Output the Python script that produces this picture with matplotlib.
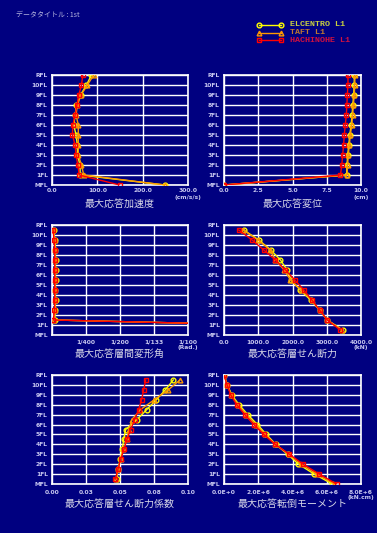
import matplotlib
matplotlib.use("Agg")
import matplotlib.pyplot as plt
import numpy as np

plt.rcParams['font.family'] = ['Noto Sans CJK JP', 'DejaVu Sans']

BG = '#000080'
TXT = '#c8c8f0'

# ---------------- data ----------------
floor_labels = ['MFL', '1FL', '2FL', '3FL', '4FL', '5FL', '6FL', '7FL', '8FL', '9FL', '10FL', 'RFL']
series_names = ['ELCENTRO L1', 'TAFT L1', 'HACHINOHE L1']

# floor-level quantities (MFL .. RFL)
acc_elcentro = [249, 62, 62, 56, 56, 53, 48, 51, 54, 63, 76, 87]
acc_taft     = [249, 70, 65, 58, 58, 58, 58, 53, 56, 64, 78, 92]
acc_hachi    = [149, 60, 57, 53, 51, 45, 46, 51, 55, 59, 65, 68]

disp_elcentro = [0.0, 8.95, 8.98, 9.03, 9.11, 9.18, 9.28, 9.35, 9.40, 9.47, 9.50, 9.52]
disp_taft     = [0.0, 8.98, 9.02, 9.07, 9.15, 9.22, 9.32, 9.39, 9.44, 9.51, 9.54, 9.56]
disp_hachi    = [0.0, 8.50, 8.60, 8.66, 8.73, 8.78, 8.85, 8.93, 8.97, 9.00, 9.05, 9.05]

mom_elcentro = [6.32e6, 5.27e6, 4.35e6, 3.71e6, 3.02e6, 2.48e6, 1.95e6, 1.39e6, 0.88e6, 0.45e6, 0.20e6, 0.0]
mom_taft     = [6.45e6, 5.42e6, 4.50e6, 3.78e6, 3.00e6, 2.40e6, 1.85e6, 1.30e6, 0.81e6, 0.42e6, 0.19e6, 0.0]
mom_hachi    = [6.58e6, 5.56e6, 4.62e6, 3.82e6, 2.99e6, 2.32e6, 1.74e6, 1.21e6, 0.74e6, 0.39e6, 0.18e6, 0.0]

# story quantities (story 1 = MFL-1FL ... story 11 = 10FL-RFL)
drift_elcentro = [0.031, 0.00020, 0.00024, 0.00026, 0.00025, 0.00026, 0.00026, 0.00026, 0.00025, 0.00022, 0.00012]
drift_taft     = [0.031, 0.00018, 0.00022, 0.00024, 0.00024, 0.00024, 0.00024, 0.00025, 0.00024, 0.00020, 0.00010]
drift_hachi    = [0.031, 0.00010, 0.00018, 0.00020, 0.00020, 0.00020, 0.00020, 0.00020, 0.00020, 0.00015, 0.00008]

shear_elcentro = [3463, 3015, 2790, 2527, 2224, 1961, 1844, 1649, 1366, 1015, 576]
shear_taft     = [3444, 3015, 2790, 2556, 2244, 1941, 1756, 1502, 1346, 995, 556]
shear_hachi    = [3395, 3015, 2790, 2566, 2332, 2068, 1795, 1502, 1161, 820, 429]

coef_elcentro = [0.0475, 0.0485, 0.0502, 0.0517, 0.0527, 0.0542, 0.0625, 0.0696, 0.0767, 0.0833, 0.0892]
coef_taft     = [0.0470, 0.0485, 0.0505, 0.0525, 0.0551, 0.0566, 0.0588, 0.0650, 0.0752, 0.0855, 0.0941]
coef_hachi    = [0.0466, 0.0485, 0.0505, 0.0529, 0.0551, 0.0578, 0.0608, 0.0637, 0.0659, 0.0674, 0.0689]

colors = ['#ffff00', '#ff9900', '#ff0000']
markers = ['o', '^', 's']

floor_y = np.arange(len(floor_labels))
story_y = np.arange(len(floor_labels) - 1) + 0.5

W, H = 377, 533
fig = plt.figure(figsize=(W / 100, H / 100), dpi=100)
fig.patch.set_facecolor(BG)


def px_axes(l, t, r, b):
    return fig.add_axes([l / W, 1 - b / H, (r - l) / W, (b - t) / H])


def setup(ax, xlim, xticks, xticklabels, unit, title, title_y_px, unit_y_px, tick_y_px, ax_px):
    l, t, r, b = ax_px
    ax.set_facecolor(BG)
    ax.set_xlim(*xlim)
    ax.set_ylim(0, len(floor_labels) - 1)
    ax.set_yticks(floor_y)
    ax.set_yticklabels(floor_labels)
    ax.set_xticks(xticks)
    ax.set_xticklabels([])
    ax.grid(True, color='white', lw=1.0)
    ax.set_axisbelow(True)
    for s in ax.spines.values():
        s.set_color('white')
        s.set_linewidth(1.2)
    ax.tick_params(axis='both', length=0, colors=TXT)
    ax.tick_params(axis='y', pad=3, labelsize=4.3)
    for lab in ax.get_yticklabels():
        lab.set_fontweight('bold')
        lab.set_family('DejaVu Sans')
    # x tick labels
    for xv, txt in zip(xticks, xticklabels):
        xpx = l + (xv - xlim[0]) / (xlim[1] - xlim[0]) * (r - l)
        fig.text(xpx / W, 1 - tick_y_px / H, txt, ha='center', va='center',
                 fontsize=4.3, color=TXT, fontweight='bold', family='DejaVu Sans')
    fig.text(r / W, 1 - unit_y_px / H, unit, ha='center', va='center',
             fontsize=4.3, color=TXT, fontweight='bold', family='DejaVu Sans')
    fig.text((l + r) / 2 / W, 1 - title_y_px / H, title, ha='center', va='center',
             fontsize=7.2, color='#d8d8e8')


def draw(ax, xs_list, ys):
    for xs, c, m in zip(xs_list, colors, markers):
        ax.plot(xs, ys, color=c, lw=1.0, marker=m, ms=3.4, mfc='none',
                mec=c, mew=1.0, clip_on=True, zorder=3)


# panel 1: acceleration
p = (52, 75, 188, 185)
ax1 = px_axes(*p)
draw(ax1, [acc_elcentro, acc_taft, acc_hachi], floor_y)
setup(ax1, (0, 300), [0, 100, 200, 300], ['0.0', '100.0', '200.0', '300.0'],
      '(cm/s/s)', '最大応答加速度', 204, 197, 191, p)

# panel 2: displacement
p = (224, 75, 361, 185)
ax2 = px_axes(*p)
draw(ax2, [disp_elcentro, disp_taft, disp_hachi], floor_y)
setup(ax2, (0, 10), [0, 2.5, 5, 7.5, 10], ['0.0', '2.5', '5.0', '7.5', '10.0'],
      '(cm)', '最大応答変位', 204, 197, 191, p)

# panel 3: drift angle
p = (52, 225, 188, 335)
ax3 = px_axes(*p)
draw(ax3, [drift_elcentro, drift_taft, drift_hachi], story_y)
setup(ax3, (0, 0.01), [0, 0.0025, 0.005, 0.0075, 0.01], ['', '1/400', '1/200', '1/133', '1/100'],
      '(Rad.)', '最大応答層間変形角', 354, 348, 342, p)

# panel 4: story shear
p = (224, 225, 361, 335)
ax4 = px_axes(*p)
draw(ax4, [shear_elcentro, shear_taft, shear_hachi], story_y)
setup(ax4, (0, 4000), [0, 1000, 2000, 3000, 4000], ['0.0', '1000.0', '2000.0', '3000.0', '4000.0'],
      '(kN)', '最大応答層せん断力', 354, 348, 342, p)

# panel 5: shear coefficient
p = (52, 375, 188, 484)
ax5 = px_axes(*p)
draw(ax5, [coef_elcentro, coef_taft, coef_hachi], story_y)
setup(ax5, (0, 0.1), [0, 0.025, 0.05, 0.075, 0.1], ['0.00', '0.03', '0.05', '0.08', '0.10'],
      '', '最大応答層せん断力係数', 504, 497, 492, p)

# panel 6: overturning moment
p = (224, 375, 361, 484)
ax6 = px_axes(*p)
draw(ax6, [mom_elcentro, mom_taft, mom_hachi], floor_y)
setup(ax6, (0, 8e6), [0, 2e6, 4e6, 6e6, 8e6], ['0.0E+0', '2.0E+6', '4.0E+6', '6.0E+6', '8.0E+6'],
      '(kN.cm)', '最大応答転倒モーメント', 504, 497, 492, p)

# title
fig.text(16 / W, 1 - 15 / H, 'データタイトル : 1st', ha='left', va='center',
         fontsize=5.0, color='#b8b8e0')

# legend
lg = fig.add_axes([0, 0, 1, 1])
lg.set_xlim(0, W)
lg.set_ylim(H, 0)
lg.axis('off')
text_colors = ['#c8d040', '#c07830', '#d01040']
for i, (name, c, m, tc) in enumerate(zip(series_names, colors, markers, text_colors)):
    y = 25 + i * 7.5
    lg.plot([259, 281], [y, y], color=c, lw=1.0, marker=m, ms=3.4, mfc='none', mec=c, mew=1.0)
    lg.text(290, y, name, ha='left', va='center', fontsize=6.0, color=tc,
            family='Liberation Mono', fontweight='bold')

fig.savefig('out.png', dpi=100, facecolor=BG)
